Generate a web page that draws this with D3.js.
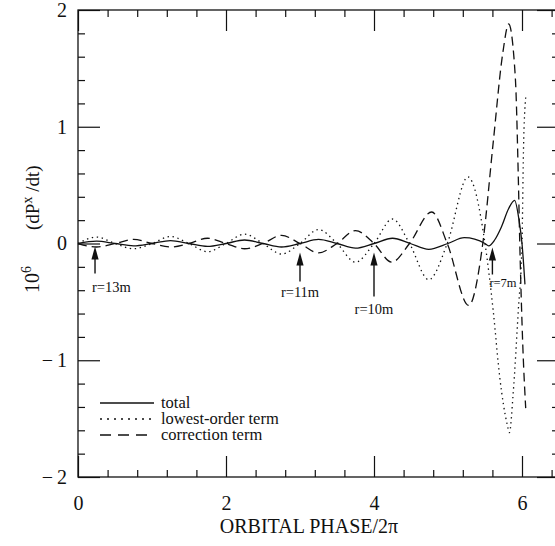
<!DOCTYPE html>
<html>
<head>
<meta charset="utf-8">
<script src="https://cdn.jsdelivr.net/npm/d3@7"></script>
<style>
  body { margin: 0; background: #fff; }
  svg { display: block; font-family: "Liberation Serif", "DejaVu Serif", serif; }
</style>
</head>
<body>
<svg id="chart" width="555" height="546"></svg>
<script>
// [orbital phase / 2pi, 10^6 dPx/dt] (extrema and zero crossings)
const totalPts = [
  [0, 0], [0.25, 0.02], [0.5, 0], [0.75, -0.02], [1.0, 0], [1.25, 0.025], [1.5, 0],
  [1.75, -0.025], [2.0, 0], [2.25, 0.03], [2.5, 0], [2.75, -0.03], [3.0, 0], [3.25, 0.035],
  [3.5, 0], [3.75, -0.04], [4.0, 0], [4.25, 0.045], [4.49, 0], [4.74, -0.05], [5.0, 0],
  [5.22, 0.05], [5.5, 0], [5.55, -0.02], [5.63, 0.03], [5.72, 0.14], [5.82, 0.3],
  [5.9, 0.37], [5.96, 0.2], [6.0, 0], [6.04, -0.35]
];
const lowestPts = [
  [0, 0], [0.25, 0.055], [0.5, 0], [0.75, -0.045], [1.0, 0], [1.25, 0.06], [1.5, 0],
  [1.75, -0.07], [2.0, 0], [2.25, 0.08], [2.5, 0], [2.75, -0.09], [3.0, 0], [3.25, 0.12],
  [3.5, 0], [3.75, -0.16], [4.0, 0], [4.25, 0.21], [4.48, 0], [4.74, -0.31], [4.99, 0],
  [5.27, 0.57], [5.5, 0], [5.61, -0.57], [5.7, -1.15], [5.8, -1.55], [5.83, -1.62],
  [5.88, -1.29], [5.95, -0.57], [6.0, 0], [6.02, 0.8], [6.05, 1.25]
];
const correctionPts = [
  [0, 0], [0.25, -0.03], [0.5, 0], [0.75, 0.035], [1.0, 0], [1.25, -0.03], [1.5, 0],
  [1.75, 0.045], [2.0, 0], [2.25, -0.045], [2.5, 0], [2.75, 0.07], [3.0, 0], [3.25, -0.08],
  [3.5, 0], [3.75, 0.11], [4.0, 0], [4.24, -0.16], [4.48, 0], [4.78, 0.27], [4.99, 0],
  [5.28, -0.53], [5.47, 0], [5.61, 0.86], [5.74, 1.63], [5.82, 1.88], [5.91, 1.42],
  [5.95, 0.57], [5.97, 0], [6.01, -0.86], [6.05, -1.41]
];

const xMajor = [0, 2, 4, 6];
const yMajor = [-2, -1, 0, 1, 2];

const legendLabels = ['total', 'lowest-order term', 'correction term'];

const radiusPhase = [0.23, 3.0, 4.0, 5.6];
const radiusLabels = ['r=13m', 'r=11m', 'r=10m', 'r=7m'];

// styles / layout
const seriesStyle = [
  { pts: totalPts, dash: null },
  { pts: lowestPts, dash: '1.4,3.6' },
  { pts: correctionPts, dash: '9,5' }
];
const legendDash = [null, '2,5', '11,7'];
// tip offset below zero line, shaft length, label dx, label dy, font size, anchor
const arrowLayout = [
  { tip: 3, len: 27, dx: -3, dy: 48, fs: 14.5, anchor: 'start' },
  { tip: 9, len: 29, dx: 0, dy: 53, fs: 14.5, anchor: 'middle' },
  { tip: 9, len: 44, dx: 0, dy: 70, fs: 14.5, anchor: 'middle' },
  { tip: 4, len: 27, dx: -3, dy: 43, fs: 12.5, anchor: 'start' }
];

const svg = d3.select('#chart');
const x = d3.scaleLinear().domain([0, 6.5]).range([78, 559]);
const y = d3.scaleLinear().domain([-2, 2]).range([477, 10]);

const isMult = (v, m) => Math.abs(v / m - Math.round(v / m)) < 1e-6;
const xMinor = d3.range(0, 6.45, 0.4).filter(v => !isMult(v, 2));
const yMinor = d3.range(-2, 2.01, 0.2).filter(v => !isMult(v, 1));

function tickAxis (axisFn, scale, values, size, pad, fmt) {
  return axisFn(scale).tickValues(values).tickSizeInner(-size).tickSizeOuter(0)
    .tickPadding(pad).tickFormat(fmt || '');
}

const fmtY = d => d < 0 ? '\u2212\u2009' + Math.abs(d) : String(d);
const axes = [
  [d3.axisBottom, x, `translate(0,${y(-2)})`, xMajor, 21, 19, d => d],
  [d3.axisBottom, x, `translate(0,${y(-2)})`, xMinor, 7, 0, null],
  [d3.axisTop, x, `translate(0,${y(2)})`, xMajor, 21, 0, null],
  [d3.axisTop, x, `translate(0,${y(2)})`, xMinor, 7, 0, null],
  [d3.axisLeft, y, `translate(${x(0)},0)`, yMajor, 22, 11, fmtY],
  [d3.axisLeft, y, `translate(${x(0)},0)`, yMinor, 7, 0, null],
  [d3.axisRight, y, `translate(${x(6.5)},0)`, yMajor, 22, 0, null],
  [d3.axisRight, y, `translate(${x(6.5)},0)`, yMinor, 7, 0, null]
];
axes.forEach(([fn, sc, tr, vals, size, pad, fmt]) => {
  const g = svg.append('g').attr('transform', tr)
    .call(tickAxis(fn, sc, vals, size, pad, fmt));
  g.select('.domain').remove();
  g.selectAll('line').attr('stroke', '#111').attr('stroke-width', 1.2);
  g.selectAll('text').attr('fill', '#111').style('font-size', '20px')
    .style('font-family', '"Liberation Serif", serif');
});

svg.append('rect')
  .attr('x', x(0)).attr('y', y(2))
  .attr('width', x(6.5) - x(0)).attr('height', y(-2) - y(2))
  .attr('fill', 'none').attr('stroke', '#111').attr('stroke-width', 1.3);

const line = d3.line()
  .x(d => x(d[0]))
  .y(d => y(d[1]))
  .curve(d3.curveMonotoneX);

svg.append('g').attr('class', 'series')
  .selectAll('path')
  .data(seriesStyle)
  .enter().append('path')
  .attr('d', d => line(d.pts))
  .attr('fill', 'none')
  .attr('stroke', '#111')
  .attr('stroke-width', 1.3)
  .attr('stroke-dasharray', d => d.dash);

// radius arrows
const arrows = svg.append('g').attr('class', 'arrows')
  .selectAll('g')
  .data(radiusPhase)
  .enter().append('g')
  .attr('transform', d => `translate(${x(d)},${y(0)})`);
arrows.append('line')
  .attr('x1', 0).attr('x2', 0)
  .attr('y1', (d, i) => arrowLayout[i].tip + 10)
  .attr('y2', (d, i) => arrowLayout[i].tip + arrowLayout[i].len)
  .attr('stroke', '#111').attr('stroke-width', 1.4);
arrows.append('path')
  .attr('d', (d, i) => {
    const t = arrowLayout[i].tip;
    return `M0,${t} L-3.6,${t + 13} L3.6,${t + 13} Z`;
  })
  .attr('fill', '#111');
arrows.append('text')
  .attr('x', (d, i) => arrowLayout[i].dx)
  .attr('y', (d, i) => arrowLayout[i].dy)
  .attr('text-anchor', (d, i) => arrowLayout[i].anchor)
  .style('font-size', (d, i) => arrowLayout[i].fs + 'px')
  .attr('fill', '#111')
  .text((d, i) => radiusLabels[i]);

// legend
const legend = svg.append('g').attr('class', 'legend')
  .selectAll('g')
  .data(legendLabels)
  .enter().append('g')
  .attr('transform', (d, i) => `translate(100,${403 + i * 16})`);
legend.append('line')
  .attr('x1', 0).attr('x2', 54).attr('y1', 0).attr('y2', 0)
  .attr('stroke', '#111').attr('stroke-width', 1.3)
  .attr('stroke-dasharray', (d, i) => legendDash[i]);
legend.append('text')
  .attr('x', 61).attr('y', 5)
  .style('font-size', '16.5px')
  .attr('fill', '#111')
  .text(d => d);

// axis titles
svg.append('text')
  .attr('x', 309).attr('y', 533)
  .attr('text-anchor', 'middle')
  .style('font-size', '20px')
  .attr('fill', '#111')
  .text('ORBITAL PHASE/2\u03c0');

const yTitle1 = svg.append('text')
  .attr('transform', 'translate(39,293) rotate(-90)')
  .style('font-size', '20px')
  .attr('fill', '#111');
yTitle1.append('tspan').text('10');
yTitle1.append('tspan').attr('dy', -8).style('font-size', '14px').text('6');

const yTitle2 = svg.append('text')
  .attr('transform', 'translate(39,230) rotate(-90)')
  .style('font-size', '19px')
  .attr('fill', '#111');
yTitle2.append('tspan').text('(dP');
yTitle2.append('tspan').attr('dy', -7).style('font-size', '14px').text('x');
yTitle2.append('tspan').attr('dy', 7).text(' /dt)');
</script>
</body>
</html>
